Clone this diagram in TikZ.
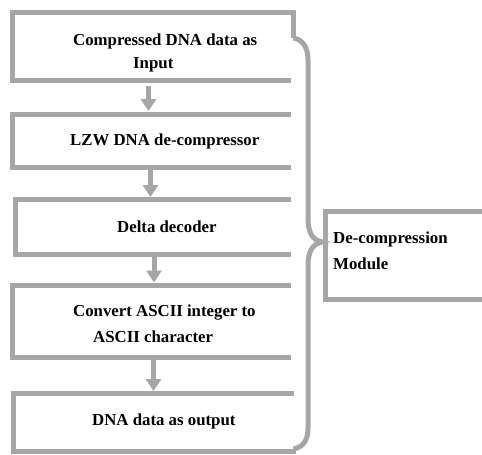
\documentclass[tikz,border=0pt]{standalone}
\usepackage{fontspec}
\setmainfont{Liberation Serif}
\usetikzlibrary{arrows.meta}
\definecolor{framegray}{RGB}{166,166,166}
\tikzset{
  frame/.style={draw=framegray, line width=5pt, line join=miter, line cap=butt},
  boxarea/.style={inner sep=0pt, outer sep=0pt, draw=none, anchor=north west},
  lbl/.style={inner sep=0pt, anchor=base west, font=\fontsize{16.8}{20}\selectfont\bfseries},
  flow/.style={draw=framegray, line width=5pt, -{Triangle[width=15pt,length=12pt]}}
}
\begin{document}
\begin{tikzpicture}[x=1pt,y=-1pt]
\useasboundingbox (0,0) rectangle (482,455);
% box areas
\node[boxarea, minimum width=281pt, minimum height=68.5pt] (b1) at (12.5,12) {};
\node[boxarea, minimum width=278.5pt, minimum height=53pt] (b2) at (12.5,114.5) {};
\node[boxarea, minimum width=276pt, minimum height=54.5pt] (b3) at (15,199.5) {};
\node[boxarea, minimum width=278.5pt, minimum height=72.5pt] (b4) at (12.5,285) {};
\node[boxarea, minimum width=280.5pt, minimum height=57.5pt] (b5) at (13,393.5) {};
\node[boxarea, minimum width=170pt, minimum height=87.5pt] (b6) at (325,211.5) {};
% frames
\draw[frame] ([yshift=-26pt]b1.north east) -- (b1.north east) -- (b1.north west) -- (b1.south west) -- ([xshift=-2.5pt]b1.south east);
\draw[frame] (b2.north east) -- (b2.north west) -- (b2.south west) -- (b2.south east);
\draw[frame] (b3.north east) -- (b3.north west) -- (b3.south west) -- (b3.south east);
\draw[frame] (b4.north east) -- (b4.north west) -- (b4.south west) -- (b4.south east);
\draw[frame] (b5.north east) -- ([xshift=-2.5pt]b5.north east) (b5.north east) -- (b5.north west) -- (b5.south west) -- ([xshift=2pt]b5.south east);
\draw[frame] (b6.north east) -- (b6.north west) -- (b6.south west) -- (b6.south east);
% brace
\coordinate (bt) at (293.5,38);
\coordinate (bb) at (293.5,449);
\coordinate (tip) at (322,242);
\draw[frame] (bt) .. controls (303.5,40) and (308,48) .. (308,60) -- (308,218)
  .. controls (308,232) and (312,240) .. (tip)
  .. controls (312,244) and (308,252) .. (308,266) -- (308,428)
  .. controls (308,440) and (303.5,447) .. (bb);
% arrows
\coordinate (a1s) at (148.5,86); \coordinate (a1e) at (148.5,111);
\coordinate (a2s) at (150.5,170); \coordinate (a2e) at (150.5,197);
\coordinate (a3s) at (154,256.5); \coordinate (a3e) at (154,282.5);
\coordinate (a4s) at (153.5,360); \coordinate (a4e) at (153.5,391);
\draw[flow] (a1s) -- (a1e);
\draw[flow] (a2s) -- (a2e);
\draw[flow] (a3s) -- (a3e);
\draw[flow] (a4s) -- (a4e);
% texts
\node[lbl] (t1a) at (73,45) {Compressed DNA data as};
\node[lbl] (t1b) at (133,68) {Input};
\node[lbl] (t2) at (70,145) {LZW DNA de-compressor};
\node[lbl] (t3) at (117,232) {Delta decoder};
\node[lbl] (t4a) at (73,316.7) {Convert ASCII integer to};
\node[lbl] (t4b) at (93,342.7) {ASCII character};
\node[lbl] (t5) at (92,425) {DNA data as output};
\node[lbl] (t6a) at (333,243) {De-compression};
\node[lbl] (t6b) at (333,269) {Module};
\end{tikzpicture}
\end{document}
